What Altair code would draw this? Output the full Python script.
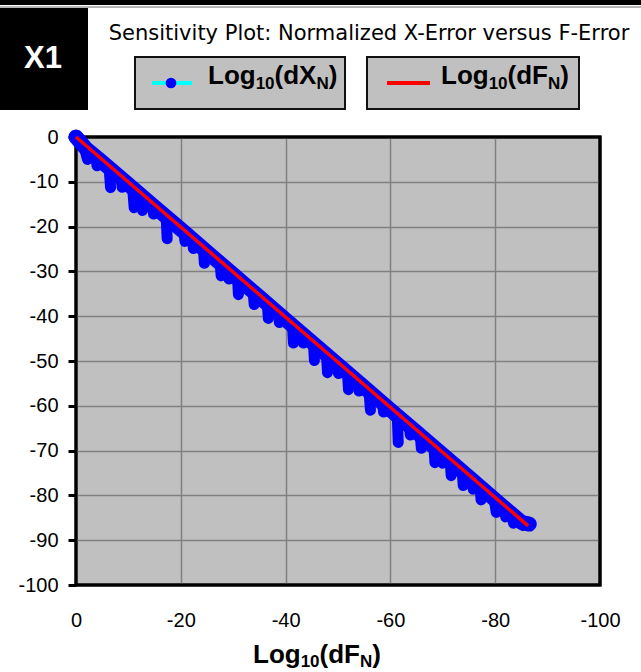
import altair as alt
import pandas as pd

# ---------------- data ----------------
x_ticks = [0, -20, -40, -60, -80, -100]
y_ticks = [0, -10, -20, -30, -40, -50, -60, -70, -80, -90, -100]

# Log10(dF_N) reference line (red)
red_x = [0, -86.3]
red_y = [0, -86.8]

# Log10(dX_N) main trace (blue, upper envelope of the cloud)
spine_x = [0, -2, -5, -10, -15, -20, -25, -30, -35, -40, -45, -50,
           -55, -60, -65, -70, -75, -80, -85, -86.5]
spine_y = [0, -2.7, -5.6, -10.6, -15.6, -20.6, -25.65, -30.7, -35.7, -40.75, -45.8, -50.8,
           -55.85, -60.9, -65.9, -70.9, -75.95, -81.0, -86.0, -86.4]

# Log10(dX_N) excursions below the trace (top point -> bottom point)
dip_x1 = [-1.5, -6.3, -10.8, -12.4, -17.2, -24.3, -27.5, -30.8, -33.8, -36.5, -41.3,
          -45.3, -47.8, -51.8, -55.9, -61.3, -65.7, -68.3, -71.4, -73.7, -77.1,
          -79.8, -83.0, -84.8,
          -3.8, -8.6, -14.6, -20.6, -22.2, -29.0, -38.6, -43.2, -49.9, -53.8,
          -58.5, -63.6, -69.8, -75.6, -81.8]
dip_y1 = [-1.9, -6.6, -11.2, -12.8, -17.6, -24.7, -27.9, -31.2, -34.3, -37.0, -41.8,
          -45.9, -48.4, -52.4, -56.5, -62.0, -66.4, -69.0, -72.1, -74.4, -77.9,
          -80.6, -83.8, -85.6,
          -4.1, -8.95, -15.0, -21.1, -22.7, -29.5, -39.2, -43.8, -50.6, -54.5,
          -59.2, -64.3, -70.6, -76.4, -82.6]
dip_x2 = [-2.2, -6.6, -11.1, -12.7, -17.4, -24.5, -27.7, -31.0, -34.0, -36.7, -41.5,
          -45.5, -48.0, -52.0, -56.2, -61.5, -65.9, -68.5, -71.6, -73.9, -77.3,
          -80.2, -83.5, -85.3,
          -4.0, -8.8, -14.8, -20.8, -22.4, -29.2, -38.8, -43.4, -50.1, -54.0,
          -58.7, -63.8, -70.0, -75.8, -82.0]
dip_y2 = [-5.0, -11.3, -15.8, -16.4, -22.7, -28.2, -31.0, -35.2, -37.4, -40.5, -46.0,
          -49.9, -52.6, -56.4, -61.0, -68.2, -69.5, -72.7, -75.6, -77.8, -81.0,
          -83.8, -86.2, -86.7,
          -6.4, -11.2, -17.2, -23.3, -24.9, -31.7, -41.4, -46.0, -52.8, -56.7,
          -61.4, -66.5, -72.8, -78.6, -84.8]

spine_df = pd.DataFrame({"x": spine_x, "y": spine_y, "o": list(range(len(spine_x)))})
red_df = pd.DataFrame({"x": red_x, "y": red_y, "o": list(range(len(red_x)))})
dip_df = pd.DataFrame({"x": dip_x1, "y": dip_y1, "x2": dip_x2, "y2": dip_y2})
one = pd.DataFrame({"k": [0]})

# ---------------- scales / axes ----------------
FONT = "Liberation Sans"
x_scale = alt.Scale(domain=[-100, 0], reverse=True, nice=False, zero=False)
y_scale = alt.Scale(domain=[-100, 0], nice=False, zero=False)
minus_fix = "replace(datum.label, '\u2212', '-')"

x_axis = alt.Axis(values=x_ticks, title=None, grid=True, gridColor="#808080", gridWidth=1.5,
                  ticks=False, tickSize=0, domain=False, labelFont=FONT, labelFontSize=20,
                  labelColor="black", labelPadding=25, labelFlush=False, labelOverlap=False,
                  labelExpr=minus_fix)
y_axis = alt.Axis(values=y_ticks, title=None, grid=True, gridColor="#808080", gridWidth=1.5,
                  ticks=True, tickSize=8, tickWidth=3, tickColor="black", domain=False,
                  labelFont=FONT, labelFontSize=20, labelColor="black", labelPadding=10,
                  labelFlush=False, labelOverlap=False, labelExpr=minus_fix)

X = alt.X("x:Q", scale=x_scale, axis=x_axis)
Y = alt.Y("y:Q", scale=y_scale, axis=y_axis)

# origin of plot area in page pixels: (76, 137); size 524 x 448
OX, OY = 76, 137


def px(v):
    return alt.value(v - OX)


def py(v):
    return alt.value(v - OY)


frame = alt.Chart(one).mark_rect(filled=False, stroke="black", strokeWidth=3).encode(
    x=alt.value(0), x2=alt.value(524), y=alt.value(0), y2=alt.value(448))

spine = alt.Chart(spine_df).mark_line(color="#0000FF", strokeWidth=15, strokeCap="round",
                                      strokeJoin="round").encode(x=X, y=Y, order="o:Q")
dips = alt.Chart(dip_df).mark_rule(color="#0000FF", strokeWidth=11, strokeCap="round").encode(
    x=X, y=Y, x2="x2:Q", y2="y2:Q")
red = alt.Chart(red_df).mark_line(color="#FF0000", strokeWidth=3.5).encode(x=X, y=Y, order="o:Q")

layers = [frame, spine, dips, red]

# ---------------- header decorations ----------------
layers.append(alt.Chart(one).mark_rect(color="black").encode(
    x=px(0), x2=px(641), y=py(0), y2=py(5)))
layers.append(alt.Chart(one).mark_rule(color="#9a9a9a", strokeWidth=1.5).encode(
    x=px(0), x2=px(641), y=py(7)))
layers.append(alt.Chart(one).mark_rect(color="black").encode(
    x=px(0), x2=px(88), y=py(8), y2=py(110)))
layers.append(alt.Chart(one).mark_text(text="X1", font=FONT, fontSize=31, fontWeight="bold",
                                       color="white", align="center", baseline="alphabetic").encode(
    x=px(43), y=py(68)))
layers.append(alt.Chart(one).mark_text(text="Sensitivity Plot: Normalized X-Error versus F-Error",
                                       font="DejaVu Sans", fontSize=21, color="black",
                                       align="center", baseline="alphabetic").encode(
    x=px(369), y=py(39.5)))

for bx0, bx1 in [(135, 345), (367, 579)]:
    layers.append(alt.Chart(one).mark_rect(fill="#C0C0C0", stroke="#111111", strokeWidth=2).encode(
        x=px(bx0), x2=px(bx1), y=py(57), y2=py(109)))

layers.append(alt.Chart(one).mark_rule(color="#00FFFF", strokeWidth=4).encode(
    x=px(152), x2=px(192), y=py(83)))
layers.append(alt.Chart(one).mark_point(filled=True, shape="circle", size=115, color="#0000FF",
                                        opacity=1).encode(x=px(171), y=py(83)))
layers.append(alt.Chart(one).mark_rule(color="#FF0000", strokeWidth=4).encode(
    x=px(387), x2=px(430), y=py(83)))

BOLD_W = {"L": 611, "o": 611, "g": 611, "1": 556, "0": 556, "(": 333, "d": 611,
          "X": 667, "N": 722, ")": 333, "F": 611}


def rich(parts, x0, base, big=26, small=17, sub_dy=5):
    out = []
    x = x0
    for txt, sub in parts:
        size = small if sub else big
        out.append(alt.Chart(one).mark_text(text=txt, font=FONT, fontSize=size, fontWeight="bold",
                                            color="black", align="left",
                                            baseline="alphabetic").encode(
            x=px(x), y=py(base + (sub_dy if sub else 0))))
        x += sum(BOLD_W[c] for c in txt) / 1000.0 * size
    return out


layers += rich([("Log", False), ("10", True), ("(dX", False), ("N", True), (")", False)], 208, 84)
layers += rich([("Log", False), ("10", True), ("(dF", False), ("N", True), (")", False)], 441, 84)
layers += rich([("Log", False), ("10", True), ("(dF", False), ("N", True), (")", False)], 253, 663,
               sub_dy=4)

chart = alt.layer(*layers).properties(
    width=524, height=448,
    autosize=alt.AutoSizeParams(type="none"),
    padding={"left": OX, "top": OY, "right": 641 - 600, "bottom": 672 - 585},
    background="white",
).configure_view(fill="#C0C0C0", stroke="black", strokeWidth=3)

chart.save("out.html", embed_options={"renderer": "svg", "actions": False})
